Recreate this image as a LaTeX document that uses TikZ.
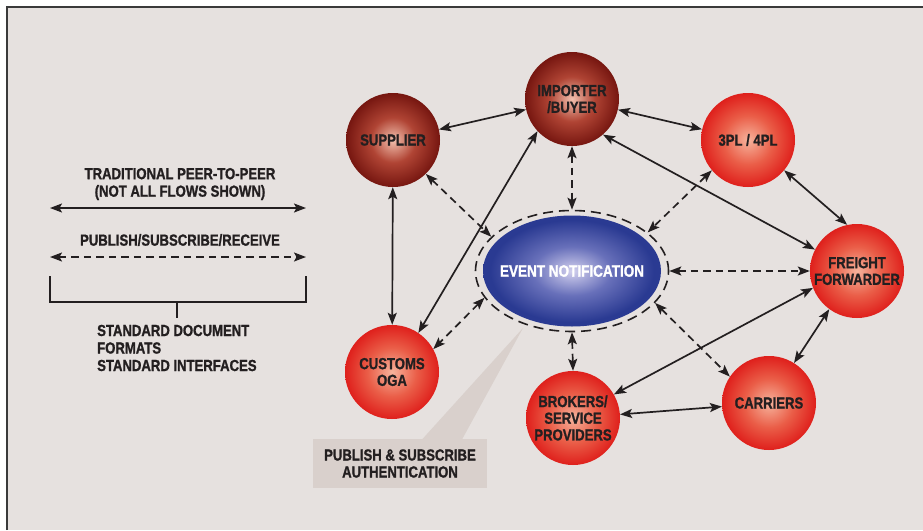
\documentclass[tikz,border=0pt]{standalone}
\usepackage{fontspec}
\setmainfont{Liberation Sans}[FakeStretch=0.82, BoldFeatures={FakeBold=1.2}]
\usetikzlibrary{arrows.meta,shapes.geometric}
\definecolor{bgc}{HTML}{E6E1DF}
\definecolor{framec}{HTML}{3A3A3A}
\definecolor{textc}{HTML}{231F20}
\definecolor{linec}{HTML}{231F20}
\definecolor{callc}{HTML}{D9D0CC}
\definecolor{drA}{HTML}{F2C0AE}
\definecolor{drB}{HTML}{B04434}
\definecolor{drC}{HTML}{761610}
\definecolor{rdA}{HTML}{F6B39C}
\definecolor{rdB}{HTML}{EA5E48}
\definecolor{rdC}{HTML}{DF201C}
\definecolor{blA}{HTML}{D2D0EE}
\definecolor{blB}{HTML}{6870BA}
\definecolor{blC}{HTML}{2A3A92}
\pgfdeclareradialshading{darksphere}{\pgfpoint{0bp}{0bp}}{color(0bp)=(drA); color(12bp)=(drB); color(25bp)=(drC); color(50bp)=(drC)}
\pgfdeclareradialshading{redsphere}{\pgfpoint{0bp}{0bp}}{color(0bp)=(rdA); color(13bp)=(rdB); color(25bp)=(rdC); color(50bp)=(rdC)}
\pgfdeclareradialshading{bluesphere}{\pgfpoint{0bp}{0bp}}{color(0bp)=(blA); color(11bp)=(blB); color(23bp)=(blC); color(50bp)=(blC)}
\tikzset{
  lbl/.style={font=\bfseries\fontsize{16}{16.7}\selectfont, text=textc, align=center},
  ball/.style={circle, minimum size=94pt, inner sep=0pt, lbl},
  darkball/.style={ball, shading=darksphere},
  redball/.style={ball, shading=redsphere},
  eventnode/.style={ellipse, minimum width=178pt, minimum height=111pt, inner sep=0pt, shading=bluesphere, font=\bfseries\fontsize{16.5}{17}\selectfont, text=white},
  ringnode/.style={ellipse, minimum width=193pt, minimum height=121pt, inner sep=0pt, draw=linec, line width=1.6pt, dash pattern=on 10pt off 6pt},
  link/.style={line width=1.7pt, draw=linec, {Stealth[length=12pt,width=9pt,inset=2.5pt]}-{Stealth[length=12pt,width=9pt,inset=2.5pt]}},
  dlink/.style={link, dash pattern=on 7.5pt off 5pt},
  legtext/.style={font=\bfseries\fontsize{16}{17.5}\selectfont, text=textc, inner sep=0pt},
  callbox/.style={fill=callc, minimum width=174pt, minimum height=49pt, inner sep=0pt, font=\bfseries\fontsize{16}{17}\selectfont, text=textc, align=center},
  brk/.style={line width=1.6pt, draw=linec}
}
\begin{document}
\begin{tikzpicture}[x=1pt,y=-1pt]
\useasboundingbox (0,0) rectangle (923,530);
\fill[white] (0,0) rectangle (923,530);
\fill[bgc] (7,7) rectangle (923,530);
\draw[framec, line width=1.5pt] (7,530) -- (7,7) -- (923,7);

% callout
\node[callbox] (cb) at (400,463.5) {PUBLISH \& SUBSCRIBE\\AUTHENTICATION};
\coordinate (ptip) at (523,328);
\coordinate (pl) at (422,439.5);
\coordinate (pr) at (462,439.5);
\fill[callc] (pl) -- (ptip) -- (pr) -- cycle;

% nodes
\node[darkball] (sup) at (393,140) {SUPPLIER};
\node[darkball] (imp) at (572,99) {IMPORTER\\/BUYER};
\node[redball] (tpl) at (748,140) {3PL / 4PL};
\node[redball] (ff) at (857,271) {FREIGHT\\FORWARDER};
\node[redball] (cus) at (392,372) {CUSTOMS\\OGA};
\node[redball] (bro) at (573,418) {BROKERS/\\SERVICE\\PROVIDERS};
\node[redball] (car) at (769,403) {CARRIERS};
\node[ringnode] (ring) at (572,271) {};
\node[eventnode] (ev) at (572,271) {\makebox[0pt]{EVENT NOTIFICATION}};

% solid links
\draw[link] (sup) -- (imp);
\draw[link] (imp) -- (tpl);
\draw[link] (imp.-49) -- (ff.153);
\draw[link] (tpl.-40) -- (ff.102);
\draw[link] (sup) -- (cus);
\draw[link] (cus.56) -- (imp.-137);
\draw[link] (ff.201) -- (bro.30);
\draw[link] (ff.-126) -- (car.58);
\draw[link] (bro) -- (car);

% dashed links
\draw[dlink] (sup.-46) -- (ring.157);
\draw[dlink] (imp.south) -- (ring.north);
\draw[dlink] (tpl.220) -- (ring.27);
\draw[dlink] (ring.east) -- (ff.west);
\draw[dlink] (ring.-21) -- (car.146);
\draw[dlink] (ring.south) -- (bro.north);
\draw[dlink] (ring.197) -- (cus.29);

% legend
\node[legtext, align=center] (lt1) at (180,184) {TRADITIONAL PEER-TO-PEER\\(NOT ALL FLOWS SHOWN)};
\coordinate (la1) at (50,208);
\coordinate (lb1) at (306,208);
\draw[link] (la1) -- (lb1);
\node[legtext] (lt2) at (180,240) {PUBLISH/SUBSCRIBE/RECEIVE};
\coordinate (la2) at (50,257);
\coordinate (lb2) at (306,257);
\draw[dlink] (la2) -- (lb2);
\coordinate (bk1) at (50,276);
\coordinate (bk2) at (50,302);
\coordinate (bk3) at (306,302);
\coordinate (bk4) at (306,276);
\coordinate (bkm) at (177,302);
\coordinate (bkt) at (177,318);
\draw[brk] (bk1) -- (bk2) -- (bk3) -- (bk4);
\draw[brk] (bkm) -- (bkt);
\node[legtext, align=left, anchor=west] (lt3) at (97,348) {STANDARD DOCUMENT\\FORMATS\\STANDARD INTERFACES};
\end{tikzpicture}
\end{document}
